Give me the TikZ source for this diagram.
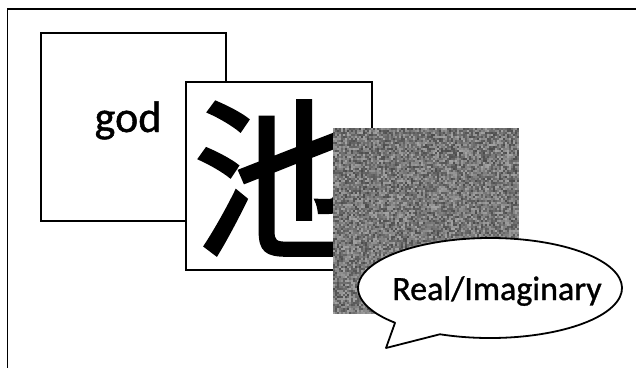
\documentclass[tikz,border=0pt]{standalone}
\usepackage{fontspec}
\usetikzlibrary{calc}
\setmainfont{Carlito}
\newfontfamily\labelfont{Carlito}[FakeBold=1]
\newfontfamily\cjkfont{Noto Sans CJK JP}[FakeBold=2]
\tikzset{
  frame/.style={draw=black, line width=1.8pt},
  card/.style={draw=black, line width=1.8pt, fill=white},
  bubble/.style={draw=black, line width=1.8pt, fill=white, line join=round},
}
\begin{document}
\begin{tikzpicture}[x=1pt, y=-1pt]
  \useasboundingbox (0,0) rectangle (636,367);
  \begin{scope}
    \clip (0,0) rectangle (636,367);
    % outer frame, running off the right and bottom edges
    \draw[frame] (7.5,9) rectangle (650,380);
  \end{scope}

  % first card
  \draw[card] (41,33) rectangle (226,221);
  \node[font=\labelfont\fontsize{44}{44}\selectfont, anchor=base] (god) at (128,132) {god};

  % second card with the character
  \draw[card] (186,82) rectangle (372,270);
  \node[font=\cjkfont\fontsize{170}{170}\selectfont, inner sep=0pt] (kanji) at (278,178) {池};

  % noise square
  \pgfmathsetseed{4242}
  \foreach \i in {0,...,92}{
    \foreach \j in {0,...,92}{
      \pgfmathrandominteger{\g}{36}{70}
      \fill[black!\g] ({333+2*\i},{128+2*\j}) rectangle ++(2.05,2.05);
    }
  }
  \coordinate (noise) at (426,220);

  % speech bubble
  \coordinate (tip) at (386,348);
  \coordinate (bc) at (490,288);
  \draw[bubble] (tip) -- ($(bc)+(112.3:132 and 50)$) arc[start angle=112.3, end angle=-224, x radius=132, y radius=50] -- cycle;
  \node[font=\labelfont\fontsize{34}{34}\selectfont, anchor=base] (label) at (497,300) {Real/Imaginary};
\end{tikzpicture}
\end{document}
